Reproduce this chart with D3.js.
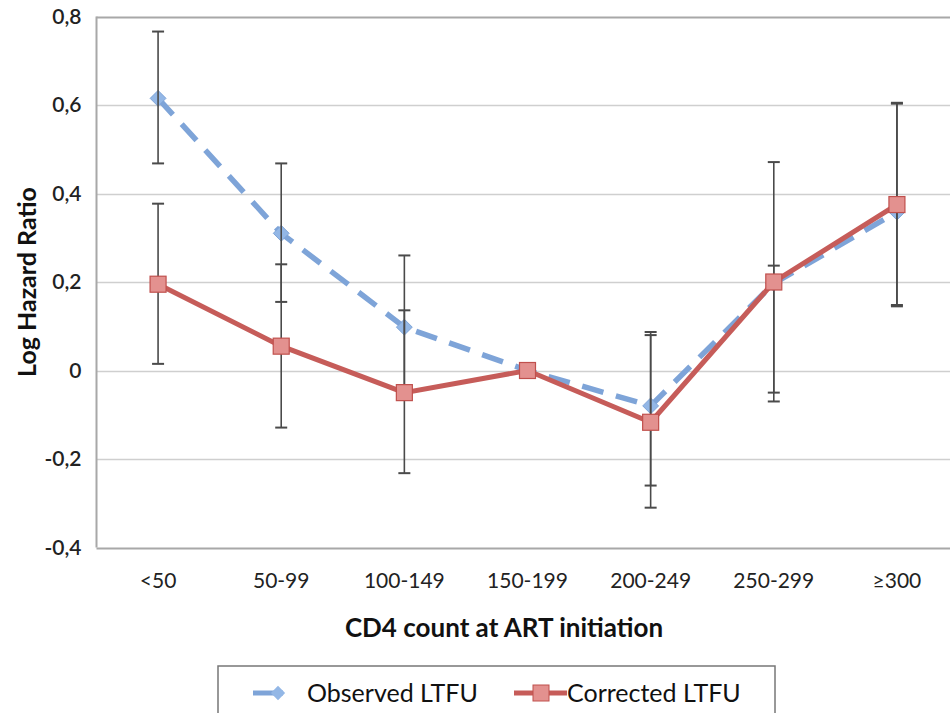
<!DOCTYPE html>
<html>
<head>
<meta charset="utf-8">
<script src="https://cdn.jsdelivr.net/npm/d3@7"></script>
<style>
  html, body { margin: 0; padding: 0; background: #fff; }
  svg { display: block; font-family: Lato, "Open Sans", sans-serif; }
</style>
</head>
<body>
<svg id="chart" width="950" height="713"></svg>
<script>
const categories = ["<50", "50-99", "100-149", "150-199", "200-249", "250-299", "≥300"];
const observed      = [0.615, 0.31, 0.098, 0, -0.08, 0.197, 0.358];
const observedLow   = [0.468, 0.155, -0.06, null, -0.26, -0.07, 0.145];
const observedHigh  = [0.766, 0.468, 0.26, null, 0.087, 0.471, 0.603];
const corrected     = [0.195, 0.055, -0.05, 0, -0.117, 0.2, 0.375];
const correctedLow  = [0.015, -0.129, -0.232, null, -0.31, -0.05, 0.148];
const correctedHigh = [0.377, 0.24, 0.136, null, 0.08, 0.237, 0.605];
const yTicks = [-0.4, -0.2, 0, 0.2, 0.4, 0.6, 0.8];
const seriesNames = ["Observed LTFU", "Corrected LTFU"];

(function () {
const svg = d3.select("#chart");
const pL = 96.5, pR = 958.5, pT = 16.5, pB = 547.5;

const x = d3.scaleBand().domain(categories).range([pL, pR]).padding(0);
const cx = c => x(c) + x.bandwidth() / 2;
const y = d3.scaleLinear().domain([-0.4, 0.8]).range([pB, pT]);

const fmt = v => (Math.abs(v) < 1e-9 ? "0" : d3.format(".1f")(v).replace(".", ",").replace("−", "-"));

// gridlines
svg.append("g")
  .selectAll("line").data(yTicks).join("line")
  .attr("x1", pL).attr("x2", pR)
  .attr("y1", d => Math.round(y(d)) + 0.5).attr("y2", d => Math.round(y(d)) + 0.5)
  .attr("stroke", d => (d === -0.4 || d === 0.8) ? "#a8a8a8" : "#cfcfcf")
  .attr("stroke-width", d => (d === -0.4 || d === 0.8) ? 2 : 1.5);

// left axis line
svg.append("line").attr("x1", pL).attr("x2", pL).attr("y1", pT).attr("y2", pB)
  .attr("stroke", "#a8a8a8").attr("stroke-width", 2);

// y axis labels
const yAxis = svg.append("g").attr("transform", `translate(${pL},0)`)
  .call(d3.axisLeft(y).tickValues(yTicks).tickFormat(fmt).tickSize(0).tickPadding(15));
yAxis.select(".domain").remove();
yAxis.selectAll("text").attr("font-size", 21).attr("fill", "#222").attr("font-family", "Lato, sans-serif").attr("font-weight", 600);

// x axis labels
const xAxis = svg.append("g").attr("transform", `translate(0,${pB})`)
  .call(d3.axisBottom(x).tickSize(0).tickPadding(26));
xAxis.select(".domain").remove();
xAxis.selectAll("text").attr("font-size", 21).attr("fill", "#222").attr("font-family", "Lato, sans-serif");

// axis titles
svg.append("text").attr("x", 504).attr("y", 637).attr("text-anchor", "middle")
  .attr("font-size", 26).attr("font-weight", "bold").attr("fill", "#111")
  .text("CD4 count at ART initiation");
svg.append("text").attr("transform", `translate(36,${(pT + pB) / 2}) rotate(-90)`)
  .attr("text-anchor", "middle").attr("font-size", 25).attr("font-weight", "bold").attr("fill", "#111")
  .text("Log Hazard Ratio");

const blue = "#7ea4d8", blueFill = "#93b7e6";
const red = "#c65c59", redFill = "#e3918f", redStroke = "#c0504d";
const errColor = "#4a4a4a";

const line = d3.line().x(d => cx(d.c)).y(d => y(d.v));
const obsData = categories.map((c, i) => ({ c, v: observed[i], lo: observedLow[i], hi: observedHigh[i] }));
const corData = categories.map((c, i) => ({ c, v: corrected[i], lo: correctedLow[i], hi: correctedHigh[i] }));

function errorBars(g, data) {
  const d2 = data.filter(d => d.lo !== null);
  g.selectAll("line.v").data(d2).join("line").attr("class", "v")
    .attr("x1", d => cx(d.c)).attr("x2", d => cx(d.c))
    .attr("y1", d => y(d.hi)).attr("y2", d => y(d.lo))
    .attr("stroke", errColor).attr("stroke-width", 1.6);
  g.selectAll("line.t").data(d2).join("line").attr("class", "t")
    .attr("x1", d => cx(d.c) - 6).attr("x2", d => cx(d.c) + 6)
    .attr("y1", d => y(d.hi)).attr("y2", d => y(d.hi))
    .attr("stroke", errColor).attr("stroke-width", 2);
  g.selectAll("line.b").data(d2).join("line").attr("class", "b")
    .attr("x1", d => cx(d.c) - 6).attr("x2", d => cx(d.c) + 6)
    .attr("y1", d => y(d.lo)).attr("y2", d => y(d.lo))
    .attr("stroke", errColor).attr("stroke-width", 2);
}

// observed series
svg.append("path").datum(obsData).attr("d", line)
  .attr("fill", "none").attr("stroke", blue).attr("stroke-width", 5.5)
  .attr("stroke-dasharray", "22,13");
svg.append("g").selectAll("path").data(obsData).join("path")
  .attr("d", d3.symbol().type(d3.symbolDiamond2).size(160))
  .attr("transform", d => `translate(${cx(d.c)},${y(d.v)})`)
  .attr("fill", blueFill).attr("stroke", "#7ea4d8").attr("stroke-width", 1);
errorBars(svg.append("g"), obsData);

// corrected series
svg.append("path").datum(corData).attr("d", line)
  .attr("fill", "none").attr("stroke", red).attr("stroke-width", 5);
errorBars(svg.append("g"), corData);
svg.append("g").selectAll("rect").data(corData).join("rect")
  .attr("x", d => cx(d.c) - 8).attr("y", d => y(d.v) - 8)
  .attr("width", 16).attr("height", 16)
  .attr("fill", redFill).attr("stroke", redStroke).attr("stroke-width", 1.2);

// legend
const lg = svg.append("g");
lg.append("rect").attr("x", 218).attr("y", 666).attr("width", 557).attr("height", 60)
  .attr("fill", "#fff").attr("stroke", "#777").attr("stroke-width", 1.5);
lg.append("line").attr("x1", 253).attr("x2", 283).attr("y1", 693).attr("y2", 693)
  .attr("stroke", blue).attr("stroke-width", 5);
lg.append("path").attr("d", d3.symbol().type(d3.symbolDiamond2).size(130))
  .attr("transform", "translate(278,693)").attr("fill", blueFill);
lg.append("text").attr("x", 307).attr("y", 702).attr("font-size", 25).attr("fill", "#111")
  .text(seriesNames[0]);
lg.append("line").attr("x1", 514).attr("x2", 567).attr("y1", 693).attr("y2", 693)
  .attr("stroke", red).attr("stroke-width", 5);
lg.append("rect").attr("x", 533).attr("y", 685).attr("width", 16).attr("height", 16)
  .attr("fill", redFill).attr("stroke", redStroke).attr("stroke-width", 1);
lg.append("text").attr("x", 567).attr("y", 702).attr("font-size", 25).attr("fill", "#111")
  .text(seriesNames[1]);
})();
</script>
</body>
</html>
